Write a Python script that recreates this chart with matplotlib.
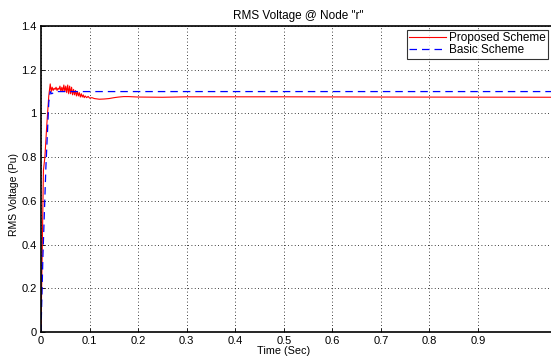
import matplotlib
matplotlib.use('Agg')
import matplotlib.pyplot as plt

plt.rcParams['font.family'] = ['Liberation Sans', 'DejaVu Sans']

# proposed scheme (red, solid)
t_prop = [0, 0.005, 0.008, 0.012, 0.016, 0.019, 0.021, 0.023, 0.025, 0.027,
          0.029, 0.031, 0.033, 0.035, 0.037, 0.039, 0.041, 0.043, 0.045, 0.047,
          0.049, 0.051, 0.053, 0.055, 0.057, 0.059, 0.061, 0.063, 0.065, 0.067,
          0.069, 0.071, 0.073, 0.075, 0.077, 0.079, 0.081, 0.083, 0.085, 0.087,
          0.089, 0.091, 0.094, 0.097, 0.100, 0.105, 0.11, 0.12, 0.13, 0.14,
          0.15, 0.16, 0.17, 0.18, 0.2, 0.25, 0.3, 0.5, 0.7, 1.07]
v_prop = [0, 0.74, 0.80, 0.95, 1.08, 1.135, 1.10, 1.12, 1.105, 1.115,
          1.11, 1.12, 1.105, 1.115, 1.11, 1.125, 1.10, 1.12, 1.10, 1.13,
          1.10, 1.125, 1.095, 1.13, 1.09, 1.125, 1.09, 1.12, 1.085, 1.11,
          1.085, 1.105, 1.08, 1.10, 1.08, 1.095, 1.075, 1.09, 1.075, 1.085,
          1.072, 1.08, 1.072, 1.078, 1.07, 1.072, 1.068, 1.065, 1.066, 1.068,
          1.072, 1.075, 1.077, 1.077, 1.075, 1.074, 1.076, 1.076, 1.075, 1.074]

# basic scheme (blue, dashed)
t_basic = [0, 0.004, 0.010, 0.016, 0.019, 0.022, 0.026, 0.03, 1.07]
v_basic = [0, 0.35, 0.75, 1.05, 1.10, 1.09, 1.095, 1.10, 1.10]

xticks = [0, 0.1, 0.2, 0.3, 0.4, 0.5, 0.6, 0.7, 0.8, 0.9]
yticks = [0, 0.2, 0.4, 0.6, 0.8, 1.0, 1.2, 1.4]

W, H = 551, 356
fig = plt.figure(figsize=(W / 100, H / 100), dpi=100)
x0, x1, y0, y1 = 41, 551, 26, 332
ax = fig.add_axes([x0 / W, 1 - y1 / H, (x1 - x0) / W, (y1 - y0) / H])

ax.plot(t_prop, v_prop, color='#ff0000', lw=0.8, label='Proposed Scheme')
ax.plot(t_basic, v_basic, color='#0000ff', lw=0.9, ls=(0, (6, 4)), label='Basic Scheme')

ax.set_xlim(0, (x1 - x0) / 485.6)
ax.set_ylim(0, 1.4)
ax.set_xticks(xticks)
ax.set_xticklabels(['0', '0.1', '0.2', '0.3', '0.4', '0.5', '0.6', '0.7', '0.8', '0.9'])
ax.set_yticks(yticks)
ax.set_yticklabels(['0', '0.2', '0.4', '0.6', '0.8', '1', '1.2', '1.4'])
ax.tick_params(direction='in', labelsize=8, length=3, width=0.6, pad=3)
ax.grid(True, color='black', ls=(0, (1, 3)), lw=0.6)
for s in ['left', 'bottom', 'top']:
    ax.spines[s].set_linewidth(1.2)
ax.spines['right'].set_visible(False)

ax.set_title('RMS Voltage @ Node "r"', fontsize=8.5, x=0.505, pad=5)
ax.set_xlabel('Time (Sec)', fontsize=7.8)
ax.xaxis.set_label_coords(0.475, -0.045)
ax.set_ylabel('RMS Voltage (Pu)', fontsize=7.5)
ax.yaxis.set_label_coords(-0.043, 0.45)

leg = ax.legend(loc='upper right', bbox_to_anchor=(0.994, 0.987), fontsize=8.5,
                frameon=True, fancybox=False, borderpad=0.2, handlelength=3.1,
                handletextpad=0.25, labelspacing=0.0, borderaxespad=0)
leg.get_frame().set_edgecolor('black')
leg.get_frame().set_linewidth(0.8)

fig.savefig('out.png', dpi=100)
